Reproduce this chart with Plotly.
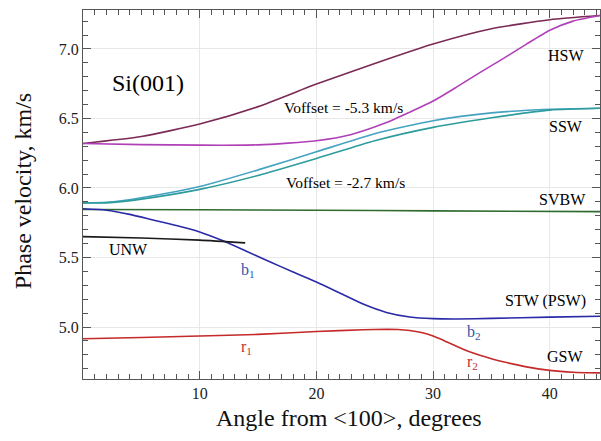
import plotly.graph_objects as go

# ---- data ----
hsw_up_x = [0, 5, 10, 15, 20, 25, 30, 35, 40, 44.3]
hsw_up_y = [6.32, 6.37, 6.46, 6.585, 6.747, 6.895, 7.035, 7.145, 7.21, 7.24]

hsw_lo_x = [0, 5, 10, 15, 20, 23, 26, 28, 30, 32, 34, 36, 38, 40, 42, 44.3]
hsw_lo_y = [6.32, 6.312, 6.308, 6.31, 6.34, 6.385, 6.47, 6.545, 6.625, 6.725, 6.83, 6.93, 7.035, 7.135, 7.2, 7.24]

ssw_up_x = [0, 2, 5, 10, 15, 20, 25, 30, 35, 40, 44.3]
ssw_up_y = [5.893, 5.897, 5.93, 6.01, 6.13, 6.26, 6.39, 6.484, 6.54, 6.566, 6.573]

ssw_lo_x = [0, 2, 5, 10, 15, 20, 25, 30, 35, 40, 44.3]
ssw_lo_y = [5.893, 5.893, 5.92, 5.99, 6.09, 6.212, 6.34, 6.436, 6.505, 6.56, 6.573]

svbw_x = [0, 10, 20, 30, 44.3]
svbw_y = [5.845, 5.843, 5.84, 5.835, 5.83]

stw_x = [0, 2, 4, 6, 8, 10, 12, 14, 16, 18, 20, 22, 24, 26, 28, 30, 32, 35, 40, 44.3]
stw_y = [5.85, 5.84, 5.81, 5.77, 5.73, 5.684, 5.62, 5.545, 5.47, 5.395, 5.324, 5.245, 5.165, 5.105, 5.072, 5.06, 5.058, 5.062, 5.071, 5.077]

unw_x = [0, 5, 10, 13.9]
unw_y = [5.65, 5.64, 5.625, 5.605]

gsw_x = [0, 5, 10, 15, 20, 24, 26, 27, 28, 29, 30, 31, 32, 33, 34, 35, 36, 38, 40, 42, 44.3]
gsw_y = [4.916, 4.925, 4.935, 4.947, 4.968, 4.98, 4.983, 4.982, 4.975, 4.96, 4.935, 4.90, 4.862, 4.826, 4.797, 4.772, 4.75, 4.713, 4.688, 4.675, 4.67]

x_ticks = [10, 20, 30, 40]
y_ticks = [5.0, 5.5, 6.0, 6.5, 7.0]

FONT = "Liberation Serif"

series = [
    (hsw_up_x, hsw_up_y, "#7a2a55"),
    (hsw_lo_x, hsw_lo_y, "#b040b8"),
    (ssw_up_x, ssw_up_y, "#45a3c2"),
    (ssw_lo_x, ssw_lo_y, "#2e9c9c"),
    (svbw_x, svbw_y, "#2f6b2f"),
    (stw_x, stw_y, "#2a2aa8"),
    (unw_x, unw_y, "#1a1a1a"),
    (gsw_x, gsw_y, "#c42a2a"),
]

fig = go.Figure()
for xs, ys, c in series:
    fig.add_trace(go.Scatter(x=xs, y=ys, mode="lines",
                             line=dict(color=c, width=1.6, shape="spline", smoothing=0.6),
                             showlegend=False, hoverinfo="skip"))

labels = [
    ("Si(001)", 2.3, 6.755, 24, "black", "left"),
    ("Voffset = -5.3 km/s", 22.3, 6.582, 15.5, "black", "center"),
    ("Voffset = -2.7 km/s", 22.5, 6.04, 15.5, "black", "center"),
    ("HSW", 41.4, 6.95, 16, "black", "center"),
    ("SSW", 41.4, 6.445, 16, "black", "center"),
    ("SVBW", 41.1, 5.92, 16, "black", "center"),
    ("STW (PSW)", 39.6, 5.19, 16, "black", "center"),
    ("GSW", 41.3, 4.79, 16, "black", "center"),
    ("UNW", 3.9, 5.56, 16, "black", "center"),
    ("b<sub>1</sub>", 14.1, 5.41, 16, "#2e55b0", "center"),
    ("r<sub>1</sub>", 14.0, 4.855, 16, "#c03030", "center"),
    ("b<sub>2</sub>", 33.5, 4.96, 16, "#2e55b0", "center"),
    ("r<sub>2</sub>", 33.4, 4.745, 16, "#c03030", "center"),
]
for t, x, y, s, c, anc in labels:
    fig.add_annotation(x=x, y=y, text=t, showarrow=False, xanchor=anc, yanchor="middle",
                       font=dict(family=FONT, size=s, color=c))

fig.add_annotation(xref="paper", yref="paper", x=0.515, y=-0.106, text="Angle from &lt;100&gt;, degrees",
                   showarrow=False, xanchor="center", yanchor="middle",
                   font=dict(family=FONT, size=24, color="#111"))
fig.add_annotation(xref="paper", yref="paper", x=-0.116, y=0.509, text="Phase velocity, km/s",
                   showarrow=False, textangle=-90, xanchor="center", yanchor="middle",
                   font=dict(family=FONT, size=24, color="#111"))

axis_common = dict(
    showline=True, linecolor="#555", linewidth=1, mirror="ticks",
    ticks="inside", ticklen=8, tickcolor="#555", tickwidth=1,
    showgrid=True, gridcolor="#e8e8e8", gridwidth=1, zeroline=False,
    tickfont=dict(family=FONT, size=16, color="#222"),
)

fig.update_xaxes(range=[0, 44.3], tickvals=x_ticks, ticktext=[str(v) for v in x_ticks],
                 minor=dict(dtick=1, ticks="inside", ticklen=5, tickcolor="#555", showgrid=False),
                 **axis_common)
fig.update_yaxes(range=[4.626, 7.28], tickvals=y_ticks, ticktext=[f"{v:.1f}" for v in y_ticks],
                 minor=dict(dtick=0.1, ticks="inside", ticklen=5, tickcolor="#555", showgrid=False),
                 **axis_common)

fig.update_layout(width=601, height=441, margin=dict(l=83, r=1, t=10, b=62),
                  plot_bgcolor="white", paper_bgcolor="white",
                  font=dict(family=FONT))

fig.write_html("out.html", config={"displayModeBar": False},
               post_script="document.body.style.margin='0';document.body.style.overflow='hidden';")
